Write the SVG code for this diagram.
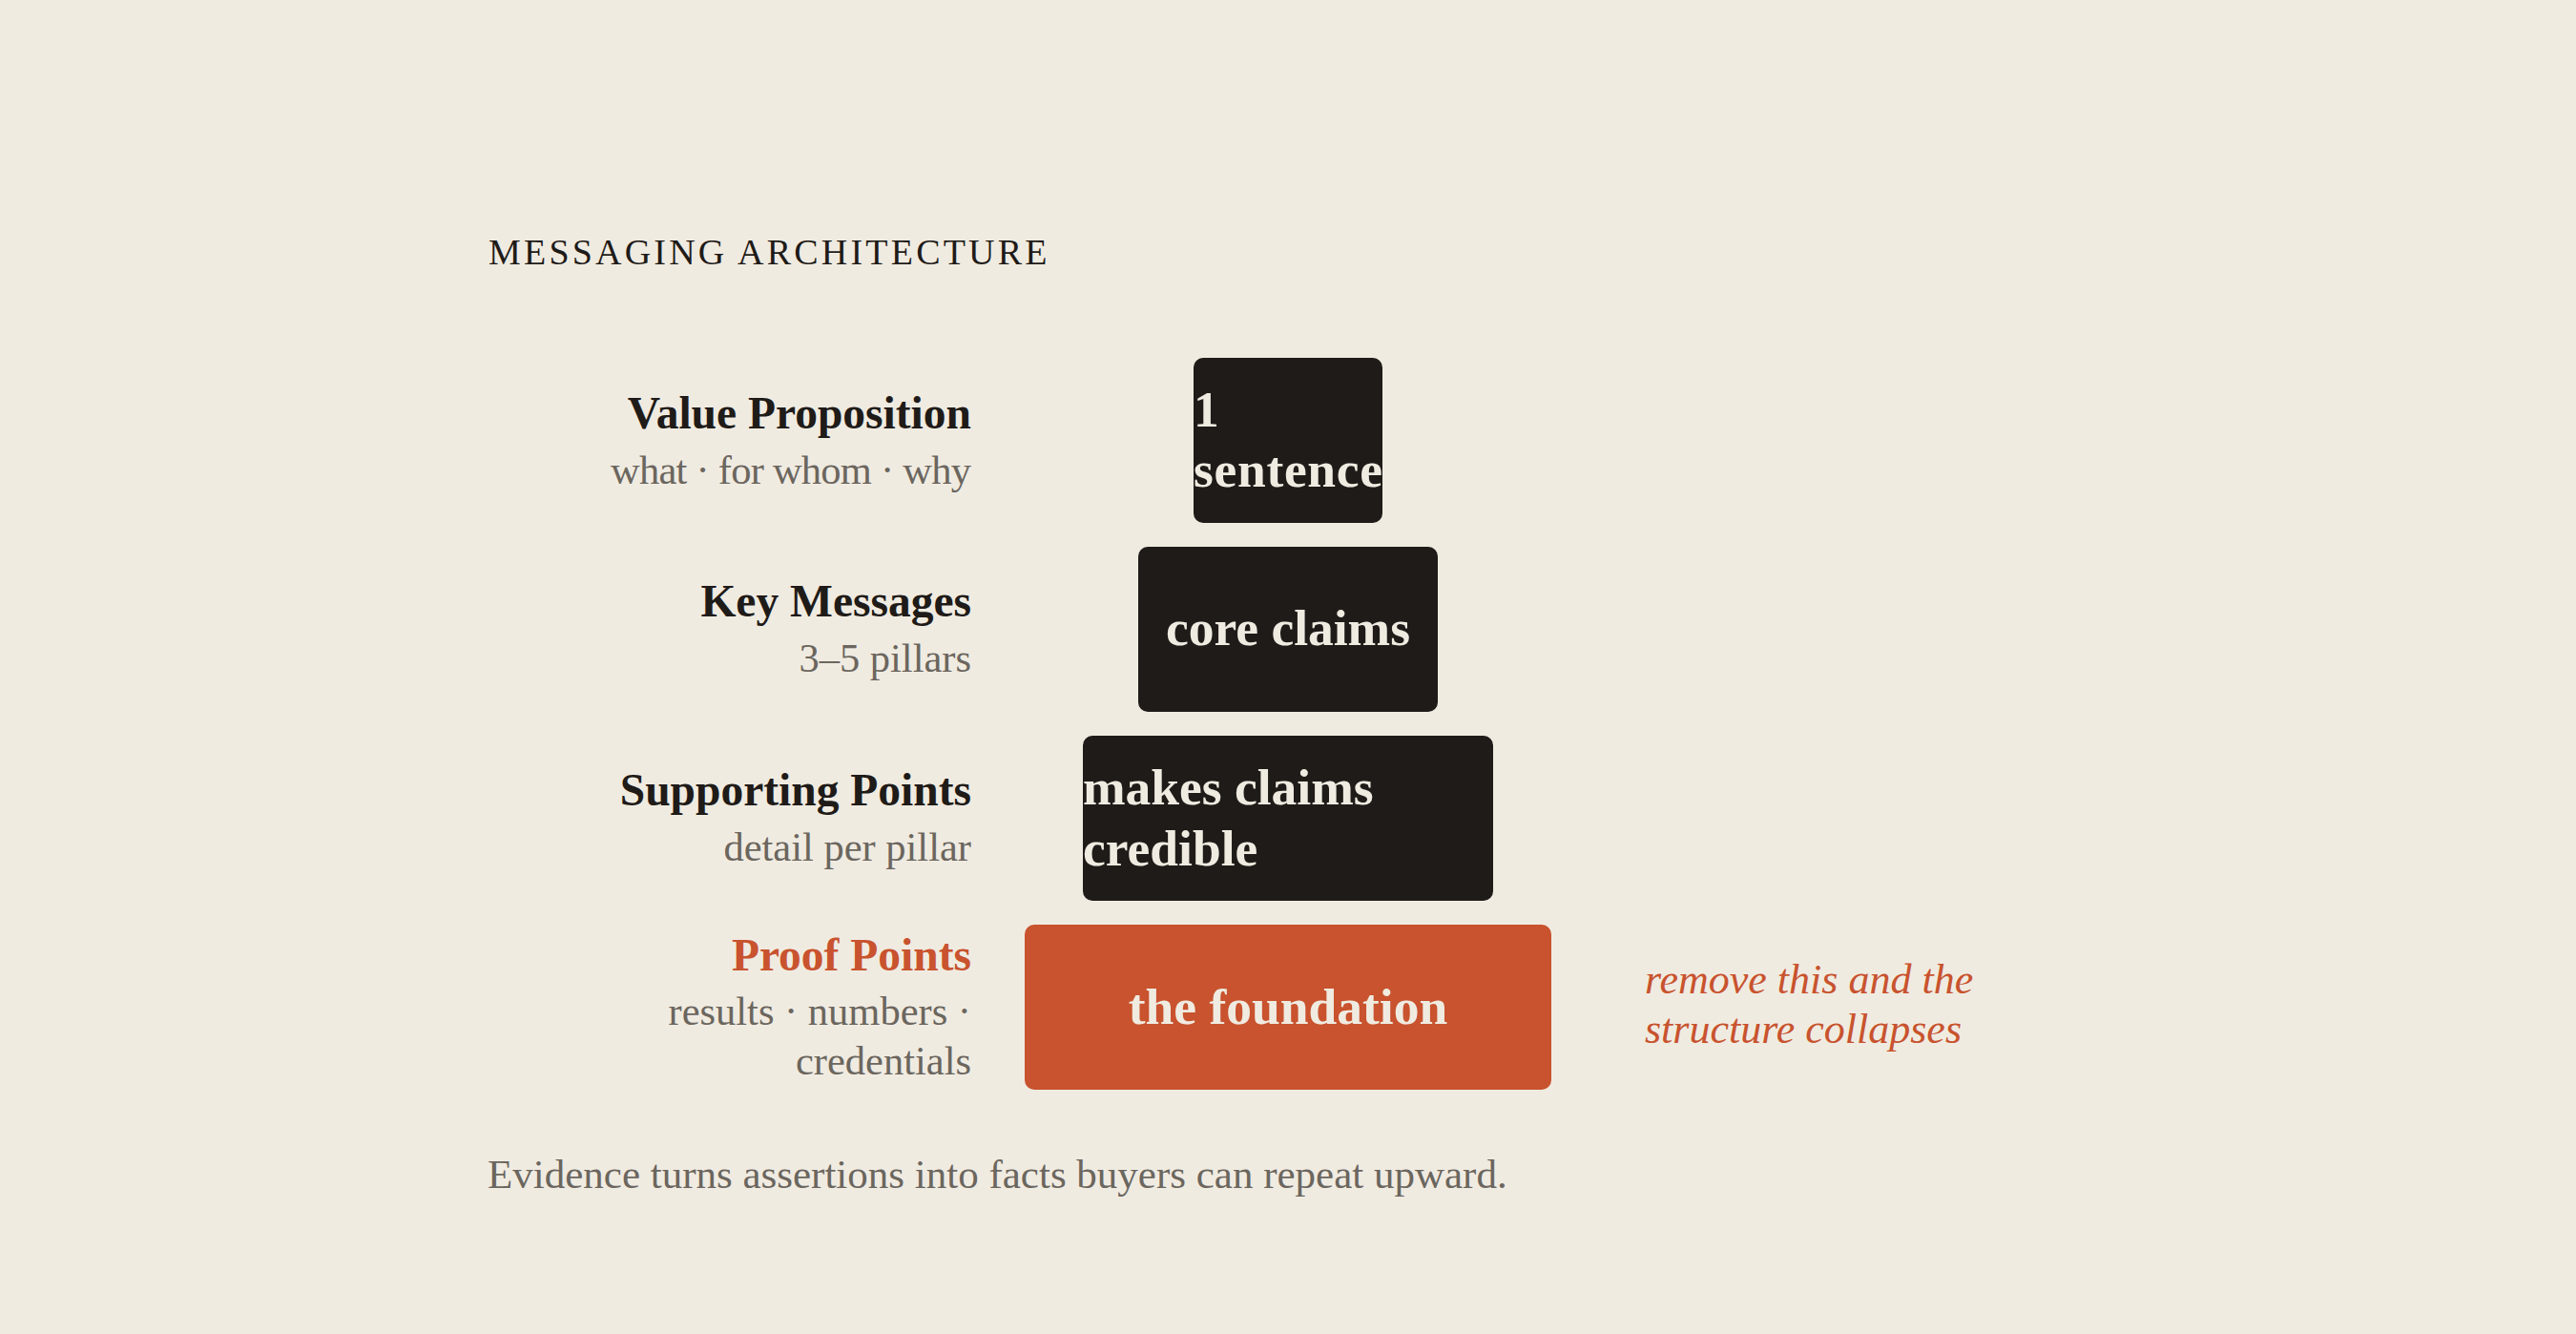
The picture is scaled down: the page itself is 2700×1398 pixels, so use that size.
<svg xmlns="http://www.w3.org/2000/svg" width="2700" height="1398" viewBox="0 0 2700 1398">
<style>
text{font-family:"Liberation Serif","Times New Roman",serif}
.hdr{font-size:38px;letter-spacing:3.2px;fill:#1f1b18}
.lbl{font-size:47.5px;font-weight:700;fill:#1f1b18;text-anchor:end}
.lbl.accent{fill:#c8532e}
.sub{font-size:42.5px;fill:#6b665e;text-anchor:end}
.box{fill:#1f1b18}
.box.accent{fill:#c8532e}
.bt{font-size:53.5px;font-weight:700;fill:#f0ebe1}
.mid{text-anchor:middle}
.note{font-size:44px;font-style:italic;fill:#c8532e}
.cap{font-size:43px;fill:#6b665e}
</style>
<rect x="0" y="0" width="2700" height="1398" fill="#f0ebe1"/>
<g id="header"><text class="hdr" x="512" y="277">MESSAGING ARCHITECTURE</text></g>
<g id="connectors"></g>
<g id="tier-value-proposition">
<text class="lbl" x="1018" y="449">Value Proposition</text>
<text class="sub" x="1018" y="507" textLength="378" lengthAdjust="spacing">what · for whom · why</text>
<rect class="box" x="1251" y="375" width="198" height="173" rx="10"/>
<text class="bt" x="1251" y="447">1</text>
<text class="bt" x="1251" y="510" textLength="198" lengthAdjust="spacing">sentence</text>
</g>
<g id="tier-key-messages">
<text class="lbl" x="1018" y="646">Key Messages</text>
<text class="sub" x="1018" y="704">3–5 pillars</text>
<rect class="box" x="1193" y="573" width="314" height="173" rx="10"/>
<text class="bt mid" x="1350" y="676">core claims</text>
</g>
<g id="tier-supporting-points">
<text class="lbl" x="1018" y="844">Supporting Points</text>
<text class="sub" x="1018" y="902">detail per pillar</text>
<rect class="box" x="1135" y="771" width="430" height="173" rx="10"/>
<text class="bt" x="1135" y="842.5">makes claims</text>
<text class="bt" x="1135" y="906.5">credible</text>
</g>
<g id="tier-proof-points">
<text class="lbl accent" x="1018" y="1017">Proof Points</text>
<text class="sub" x="1018" y="1074">results · numbers ·</text>
<text class="sub" x="1018" y="1126">credentials</text>
<rect class="box accent" x="1074" y="969" width="552" height="173" rx="10"/>
<text class="bt mid" x="1350" y="1073">the foundation</text>
</g>
<g id="note">
<text class="note" x="1724" y="1041">remove this and the</text>
<text class="note" x="1724" y="1093">structure collapses</text>
</g>
<g id="caption"><text class="cap" x="511" y="1245">Evidence turns assertions into facts buyers can repeat upward.</text></g>
</svg>
